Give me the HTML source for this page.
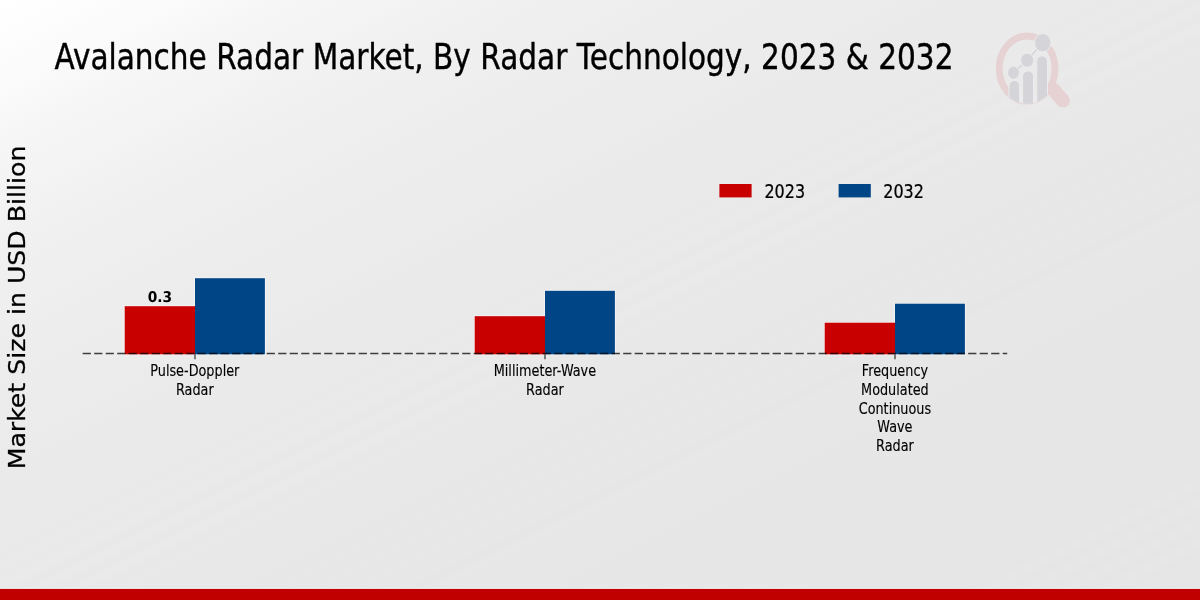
<!DOCTYPE html>
<html lang="en">
<head>
<meta charset="utf-8">
<title>Avalanche Radar Market, By Radar Technology, 2023 &amp; 2032</title>
<style>
  html, body { margin: 0; padding: 0; }
  body { width: 1200px; height: 600px; overflow: hidden; background: #e8e8e8; }
  svg { display: block; }
  text { font-family: "DejaVu Sans", "Liberation Sans", sans-serif; fill: #000; }
  .cond { font-family: "DejaVu Sans Condensed", "DejaVu Sans", "Liberation Sans", sans-serif; }
</style>
</head>
<body>
<svg width="1200" height="600" viewBox="0 0 1200 600">
  <defs>
    <linearGradient id="bg" gradientUnits="objectBoundingBox" x1="0" y1="0" x2="1" y2="1">
      <stop offset="0.0000" stop-color="#ffffff"/>
      <stop offset="0.0200" stop-color="#fefefe"/>
      <stop offset="0.0400" stop-color="#fdfdfd"/>
      <stop offset="0.0600" stop-color="#fbfbfb"/>
      <stop offset="0.0800" stop-color="#fafafa"/>
      <stop offset="0.1000" stop-color="#f8f8f8"/>
      <stop offset="0.1200" stop-color="#f6f6f6"/>
      <stop offset="0.1400" stop-color="#f5f5f5"/>
      <stop offset="0.1600" stop-color="#f4f4f4"/>
      <stop offset="0.1800" stop-color="#f2f2f2"/>
      <stop offset="0.2000" stop-color="#f1f1f1"/>
      <stop offset="0.2200" stop-color="#f0f0f0"/>
      <stop offset="0.2400" stop-color="#efefef"/>
      <stop offset="0.2600" stop-color="#efefef"/>
      <stop offset="0.2800" stop-color="#eeeeee"/>
      <stop offset="0.3000" stop-color="#ededed"/>
      <stop offset="0.3200" stop-color="#ececec"/>
      <stop offset="0.3400" stop-color="#ececec"/>
      <stop offset="0.3600" stop-color="#ececec"/>
      <stop offset="0.3800" stop-color="#ebebeb"/>
      <stop offset="0.4000" stop-color="#eaeaea"/>
      <stop offset="0.4200" stop-color="#eaeaea"/>
      <stop offset="0.4400" stop-color="#eaeaea"/>
      <stop offset="0.4482" stop-color="#eaeaea"/>
      <stop offset="0.4565" stop-color="#eaeaea"/>
      <stop offset="0.4647" stop-color="#e9e9e9"/>
      <stop offset="0.4730" stop-color="#eaeaea"/>
      <stop offset="0.4812" stop-color="#e9e9e9"/>
      <stop offset="0.4895" stop-color="#eaeaea"/>
      <stop offset="0.4977" stop-color="#e8e8e8"/>
      <stop offset="0.5060" stop-color="#eaeaea"/>
      <stop offset="0.5142" stop-color="#e8e8e8"/>
      <stop offset="0.5225" stop-color="#eaeaea"/>
      <stop offset="0.5307" stop-color="#e8e8e8"/>
      <stop offset="0.5390" stop-color="#e9e9e9"/>
      <stop offset="0.5472" stop-color="#e8e8e8"/>
      <stop offset="0.5555" stop-color="#e8e8e8"/>
      <stop offset="0.5637" stop-color="#e8e8e8"/>
      <stop offset="0.5720" stop-color="#e8e8e8"/>
      <stop offset="0.5802" stop-color="#e8e8e8"/>
      <stop offset="0.5885" stop-color="#e8e8e8"/>
      <stop offset="0.5967" stop-color="#e7e7e7"/>
      <stop offset="0.6050" stop-color="#e8e8e8"/>
      <stop offset="0.6132" stop-color="#e7e7e7"/>
      <stop offset="0.6215" stop-color="#e8e8e8"/>
      <stop offset="0.6297" stop-color="#e7e7e7"/>
      <stop offset="0.6380" stop-color="#e8e8e8"/>
      <stop offset="0.6462" stop-color="#e7e7e7"/>
      <stop offset="0.6545" stop-color="#e8e8e8"/>
      <stop offset="0.6627" stop-color="#e6e6e6"/>
      <stop offset="0.6710" stop-color="#e8e8e8"/>
      <stop offset="0.6792" stop-color="#e7e7e7"/>
      <stop offset="0.6875" stop-color="#e7e7e7"/>
      <stop offset="0.6957" stop-color="#e7e7e7"/>
      <stop offset="0.7040" stop-color="#e7e7e7"/>
      <stop offset="0.7122" stop-color="#e7e7e7"/>
      <stop offset="0.7205" stop-color="#e7e7e7"/>
      <stop offset="0.7287" stop-color="#e6e6e6"/>
      <stop offset="0.7370" stop-color="#e7e7e7"/>
      <stop offset="0.7452" stop-color="#e6e6e6"/>
      <stop offset="0.7535" stop-color="#e7e7e7"/>
      <stop offset="0.7617" stop-color="#e6e6e6"/>
      <stop offset="0.7700" stop-color="#e7e7e7"/>
      <stop offset="0.7782" stop-color="#e6e6e6"/>
      <stop offset="0.7865" stop-color="#e7e7e7"/>
      <stop offset="0.7947" stop-color="#e6e6e6"/>
      <stop offset="0.8030" stop-color="#e7e7e7"/>
      <stop offset="0.8112" stop-color="#e6e6e6"/>
      <stop offset="0.8195" stop-color="#e7e7e7"/>
      <stop offset="0.8277" stop-color="#e6e6e6"/>
      <stop offset="0.8360" stop-color="#e6e6e6"/>
      <stop offset="0.8442" stop-color="#e6e6e6"/>
      <stop offset="0.8525" stop-color="#e6e6e6"/>
      <stop offset="0.8607" stop-color="#e6e6e6"/>
      <stop offset="0.8690" stop-color="#e6e6e6"/>
      <stop offset="0.8772" stop-color="#e6e6e6"/>
      <stop offset="0.8855" stop-color="#e6e6e6"/>
      <stop offset="0.8937" stop-color="#e5e5e5"/>
      <stop offset="0.9020" stop-color="#e7e7e7"/>
      <stop offset="0.9102" stop-color="#e5e5e5"/>
      <stop offset="0.9185" stop-color="#e7e7e7"/>
      <stop offset="0.9267" stop-color="#e5e5e5"/>
      <stop offset="0.9350" stop-color="#e7e7e7"/>
      <stop offset="0.9432" stop-color="#e5e5e5"/>
      <stop offset="0.9515" stop-color="#e7e7e7"/>
      <stop offset="0.9597" stop-color="#e5e5e5"/>
      <stop offset="0.9680" stop-color="#e6e6e6"/>
      <stop offset="0.9762" stop-color="#e5e5e5"/>
      <stop offset="0.9845" stop-color="#e6e6e6"/>
      <stop offset="0.9927" stop-color="#e5e5e5"/>
    </linearGradient>
    <clipPath id="lens"><ellipse cx="1027.1" cy="68.6" rx="30.5" ry="35.4"/></clipPath>
  </defs>
  <rect x="0" y="0" width="1200" height="600" fill="url(#bg)"/>

  <!-- title -->
  <text id="title" transform="translate(54.4,69.05) scale(0.8382,1)" font-size="35.3" stroke="#000" stroke-width="0.42">Avalanche Radar Market, By Radar Technology, 2023 &amp; 2032</text>

  <!-- y label -->
  <text id="ylabel" transform="translate(24.8,307.5) rotate(-90) scale(1,0.91)" font-size="25.2" text-anchor="middle" stroke="#000" stroke-width="0.3">Market Size in USD Billion</text>

  <!-- logo -->
  <g id="logo">
    <line x1="1052.5" y1="88.7" x2="1063" y2="100.6" stroke="#e6d1d3" stroke-width="13.8" stroke-linecap="round"/>
    <ellipse cx="1027.1" cy="68.6" rx="27.9" ry="32.6" fill="none" stroke="#e6d1d3" stroke-width="6.8"/>
    <g clip-path="url(#lens)" fill="#d4d4d9" stroke="#ececec" stroke-width="1">
      <rect x="1009.5" y="92" width="37" height="20" fill="#ebebeb" stroke="none"/>
      <rect x="1008.9" y="80.4" width="10.7" height="40" rx="5.3"/>
      <rect x="1022.6" y="70.8" width="10.9" height="50" rx="5.4"/>
      <rect x="1036.8" y="55.8" width="10.7" height="60" rx="5.3"/>
    </g>
    <polyline points="1013.5,72.7 1027.2,60.3 1042.8,42.7" fill="none" stroke="#d4d4d9" stroke-width="1.3"/>
    <g fill="#d4d4d9" stroke="#ececec" stroke-width="1">
      <ellipse cx="1013.5" cy="72.7" rx="5.9" ry="6.5"/>
      <ellipse cx="1027.2" cy="60.3" rx="6.5" ry="7"/>
      <ellipse cx="1042.8" cy="42.7" rx="8.2" ry="9.2"/>
    </g>
  </g>

  <!-- legend -->
  <rect x="719.4" y="184" width="32.2" height="13.4" fill="#c80000"/>
  <text id="leg1" transform="translate(764.4,197.8) scale(0.823,1)" font-size="19.44" stroke="#000" stroke-width="0.25">2023</text>
  <rect x="838.6" y="184" width="32.2" height="13.4" fill="#004687"/>
  <text id="leg2" transform="translate(883.2,197.8) scale(0.823,1)" font-size="19.44" stroke="#000" stroke-width="0.25">2032</text>

  <!-- bars -->
  <g id="bars">
    <polygon points="123.9,355.3 123.9,305.4 194.2,305.4 194.2,277.4 265.7,277.4 265.7,355.3" fill="#ffffff" fill-opacity="0.5"/>
    <polygon points="473.9,355.3 473.9,315.4 544.2,315.4 544.2,290.0 615.7,290.0 615.7,355.3" fill="#ffffff" fill-opacity="0.5"/>
    <polygon points="823.9,355.3 823.9,321.9 894.2,321.9 894.2,302.9 965.7,302.9 965.7,355.3" fill="#ffffff" fill-opacity="0.5"/>
    <rect x="124.7" y="306.2" width="70.3" height="48.1" fill="#c80000"/>
    <rect x="195" y="278.2" width="69.9" height="76.1" fill="#004687"/>
    <rect x="474.7" y="316.2" width="70.3" height="38.1" fill="#c80000"/>
    <rect x="545" y="290.8" width="69.9" height="63.5" fill="#004687"/>
    <rect x="824.7" y="322.7" width="70.3" height="31.6" fill="#c80000"/>
    <rect x="895" y="303.7" width="69.9" height="50.6" fill="#004687"/>
  </g>

  <!-- axis -->
  <line x1="82.7" y1="353.45" x2="1007.2" y2="353.45" stroke="#000" stroke-opacity="0.74" stroke-width="1.5" stroke-dasharray="8.2 3.3"/>
  <g stroke="#222" stroke-width="1.1">
    <line x1="195" y1="354.3" x2="195" y2="359.2"/>
    <line x1="545" y1="354.3" x2="545" y2="359.2"/>
    <line x1="895" y1="354.3" x2="895" y2="359.2"/>
  </g>

  <!-- value label -->
  <text id="val" transform="translate(159.9,302) rotate(0.03) scale(0.93,1)" font-size="14.8" font-weight="bold" text-anchor="middle">0.3</text>

  <!-- tick labels -->
  <g font-size="16.4" text-anchor="middle" stroke="#000" stroke-width="0.15">
    <text transform="translate(194.8,375.80) scale(0.782,1)">Pulse-Doppler</text>
    <text transform="translate(194.8,394.65) scale(0.782,1)">Radar</text>
    <text transform="translate(544.9,375.80) scale(0.782,1)">Millimeter-Wave</text>
    <text transform="translate(544.9,394.65) scale(0.782,1)">Radar</text>
    <text transform="translate(894.9,375.80) scale(0.782,1)">Frequency</text>
    <text transform="translate(894.9,394.65) scale(0.782,1)">Modulated</text>
    <text transform="translate(894.9,413.50) scale(0.782,1)">Continuous</text>
    <text transform="translate(894.9,432.35) scale(0.782,1)">Wave</text>
    <text transform="translate(894.9,451.20) scale(0.782,1)">Radar</text>
  </g>

  <!-- bottom bar -->
  <rect x="0" y="587.9" width="1200" height="1.2" fill="#f4f8f8"/>
  <rect x="0" y="588.9" width="1200" height="11.1" fill="#c00000"/>
</svg>
</body>
</html>
